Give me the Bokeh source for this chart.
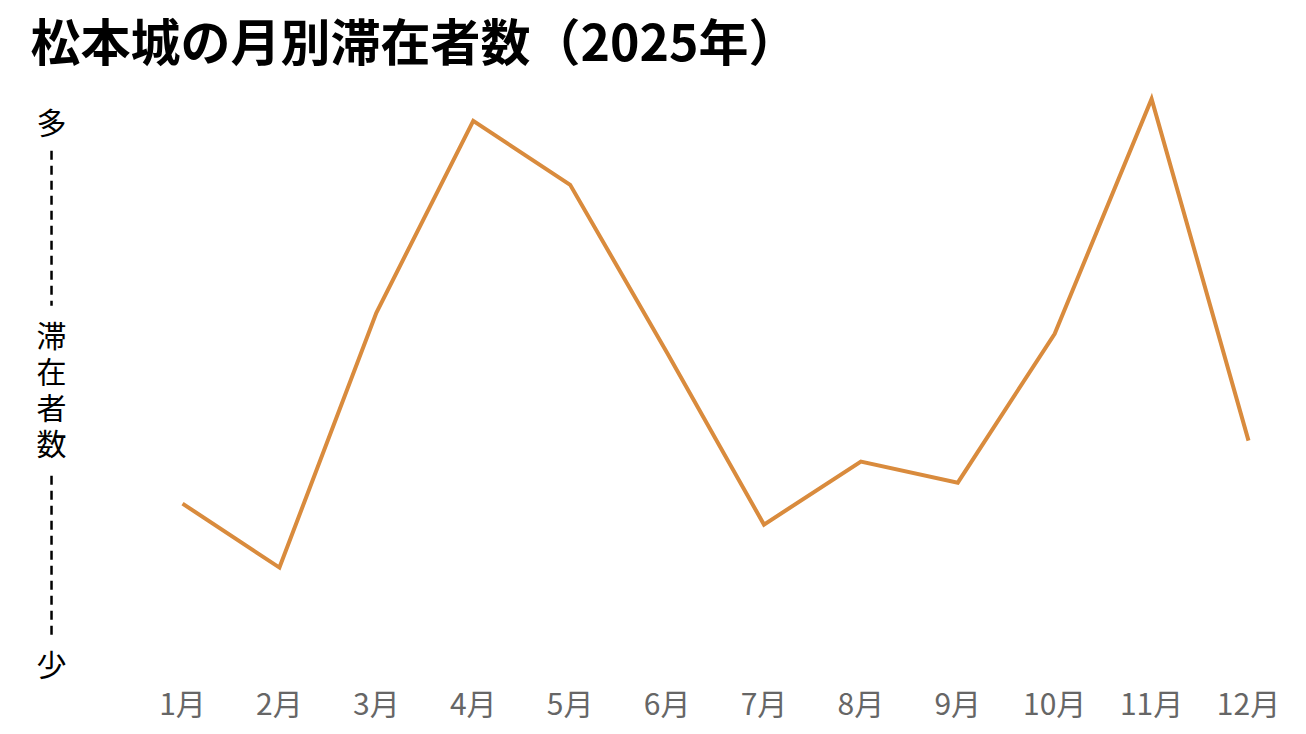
from bokeh.plotting import figure
from bokeh.models import Range1d, FixedTicker, Label
from bokeh.core.properties import value
from bokeh.embed import file_html
from bokeh.resources import INLINE

# ---- data (relative visitor index, unitless) ----
months = [1, 2, 3, 4, 5, 6, 7, 8, 9, 10, 11, 12]
month_labels = ["1月", "2月", "3月", "4月", "5月", "6月", "7月", "8月", "9月", "10月", "11月", "12月"]
visitors = [97, 33, 288, 480, 416, 248, 76, 139, 118, 267, 502, 160]
title_text = "松本城の月別滞在者数（2025年）"
axis_high = "多"
axis_low = "少"
axis_name = ["滞", "在", "者", "数"]

LINE = "#D98B3D"
FONT = "Noto Sans CJK JP"

p = figure(width=1298, height=726, output_backend="svg", toolbar_location=None,
           x_range=Range1d(-0.796, 12.516), y_range=Range1d(-81, 526.4),
           min_border_left=8, min_border_right=0, min_border_top=0, min_border_bottom=0)

p.title.text = title_text
p.title.text_font = FONT
p.title.text_font_size = "50px"
p.title.text_font_style = "bold"
p.title.text_color = "#000000"
p.title.offset = 22
p.title.standoff = 0

p.outline_line_color = None
p.grid.visible = False
p.yaxis.visible = False
p.background_fill_color = "white"
p.border_fill_color = "white"

xa = p.xaxis[0]
xa.ticker = FixedTicker(ticks=months)
xa.major_label_overrides = {m: l for m, l in zip(months, month_labels)}
xa.axis_line_color = None
xa.major_tick_line_color = None
xa.minor_tick_line_color = None
xa.major_label_text_font = FONT
xa.major_label_text_font_size = "30px"
xa.major_label_text_color = "#666666"
xa.major_label_standoff = -8

p.line(months, visitors, line_color=LINE, line_width=4, line_join="miter")

# y-axis qualitative labels
lx = -0.352


def add_label(txt, y):
    p.add_layout(Label(x=lx, y=y, text=txt, text_font=FONT, text_font_size="30px",
                       text_align="center", text_baseline="middle", text_color="#000000"))


add_label(axis_high, 480)
add_label(axis_low, -62)
for i, ch in enumerate(axis_name):
    add_label(ch, 267 - 36 * i)

p.segment(x0=[lx, lx], y0=[450, 125], x1=[lx, lx], y1=[295, -40],
          line_color="#000000", line_width=2.5, line_dash="9 6")

open("out.html", "w").write(file_html(p, INLINE))
